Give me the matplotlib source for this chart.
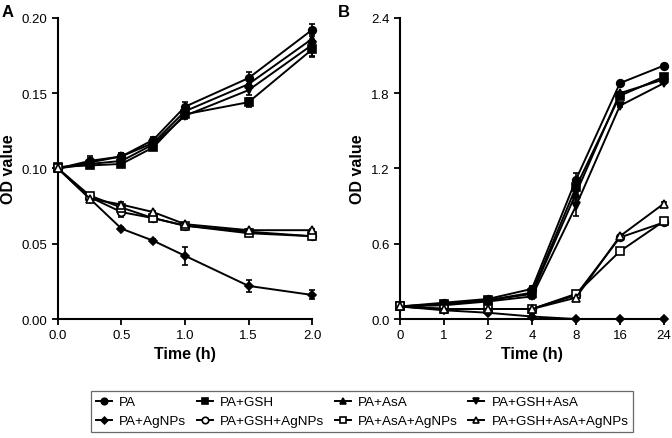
import numpy as np
import matplotlib
matplotlib.use("Agg")
import matplotlib.pyplot as plt
from matplotlib.lines import Line2D

plt.rcParams['font.family'] = ['Liberation Sans', 'DejaVu Sans']

labels = ['PA', 'PA+GSH', 'PA+AsA', 'PA+GSH+AsA',
          'PA+AgNPs', 'PA+GSH+AgNPs', 'PA+AsA+AgNPs', 'PA+GSH+AsA+AgNPs']
markers = ['o', 's', '^', 'v', 'D', 'o', 's', '^']
filled = [True, True, True, True, True, False, False, False]

# panel A - short time course
time_a = [0, 0.25, 0.5, 0.75, 1.0, 1.5, 2.0]
od_a = [
    [0.100, 0.105, 0.108, 0.119, 0.141, 0.160, 0.192],
    [0.101, 0.102, 0.103, 0.114, 0.136, 0.144, 0.179],
    [0.100, 0.104, 0.108, 0.117, 0.138, 0.156, 0.186],
    [0.100, 0.103, 0.105, 0.116, 0.135, 0.152, 0.182],
    [0.100, 0.080, 0.060, 0.052, 0.042, 0.022, 0.016],
    [0.100, 0.081, 0.071, 0.067, 0.062, 0.058, 0.055],
    [0.100, 0.082, 0.074, 0.067, 0.062, 0.057, 0.055],
    [0.100, 0.080, 0.076, 0.071, 0.063, 0.059, 0.059],
]
err_a = [
    [0.002, 0.002, 0.002, 0.002, 0.003, 0.004, 0.004],
    [0.002, 0.002, 0.002, 0.002, 0.002, 0.003, 0.005],
    [0.002, 0.004, 0.002, 0.002, 0.003, 0.003, 0.004],
    [0.002, 0.002, 0.004, 0.002, 0.002, 0.003, 0.007],
    [0.002, 0.002, 0.001, 0.001, 0.006, 0.004, 0.003],
    [0.002, 0.002, 0.003, 0.002, 0.002, 0.001, 0.001],
    [0.002, 0.002, 0.002, 0.001, 0.002, 0.001, 0.001],
    [0.002, 0.002, 0.002, 0.001, 0.001, 0.001, 0.001],
]

# panel B - long time course (categorical time points)
time_b = ['0', '1', '2', '4', '8', '16', '24']
od_b = [
    [0.10, 0.13, 0.16, 0.24, 1.11, 1.88, 2.02],
    [0.10, 0.12, 0.15, 0.21, 1.05, 1.78, 1.93],
    [0.10, 0.12, 0.15, 0.20, 1.00, 1.80, 1.91],
    [0.10, 0.11, 0.14, 0.18, 0.90, 1.70, 1.88],
    [0.10, 0.07, 0.05, 0.02, 0.00, 0.00, 0.00],
    [0.10, 0.08, 0.08, 0.08, 0.19, 0.65, 0.77],
    [0.10, 0.08, 0.08, 0.08, 0.20, 0.54, 0.78],
    [0.10, 0.08, 0.08, 0.08, 0.17, 0.66, 0.92],
]
err_b = [
    [0.01, 0.01, 0.01, 0.02, 0.05, 0.01, 0.01],
    [0.01, 0.01, 0.01, 0.02, 0.04, 0.02, 0.01],
    [0.01, 0.01, 0.01, 0.02, 0.05, 0.01, 0.01],
    [0.01, 0.01, 0.01, 0.02, 0.08, 0.01, 0.01],
    [0.01, 0.01, 0.01, 0.01, 0.00, 0.00, 0.00],
    [0.01, 0.01, 0.01, 0.01, 0.02, 0.01, 0.01],
    [0.01, 0.01, 0.01, 0.01, 0.02, 0.01, 0.01],
    [0.01, 0.01, 0.01, 0.01, 0.02, 0.01, 0.01],
]

fig = plt.figure(figsize=(6.72, 4.39), dpi=100)
axA = fig.add_axes([0.0863, 0.271, 0.378, 0.686])
axB = fig.add_axes([0.595, 0.271, 0.393, 0.686])


def style(i, scale=1.0):
    fc = 'black' if filled[i] else 'white'
    ms = 4 if markers[i] == 'D' else 5.5
    return dict(color='black', lw=1.4, marker=markers[i], ms=ms * scale,
                mfc=fc, mec='black', mew=1.2)


def draw(ax, x, data, errs):
    for i in range(len(labels)):
        ax.errorbar(x, data[i], yerr=errs[i], capsize=2.5, elinewidth=1.2,
                    capthick=1.2, clip_on=False, zorder=3, **style(i))
    for s in ['top', 'right']:
        ax.spines[s].set_visible(False)
    for s in ['left', 'bottom']:
        ax.spines[s].set_linewidth(1.5)
    ax.tick_params(direction='out', length=4, width=1.3, labelsize=9.5)
    ax.set_xlabel('Time (h)', fontsize=11.5, fontweight='bold', labelpad=3)
    ax.set_ylabel('OD value', fontsize=11.5, fontweight='bold', labelpad=4)


draw(axA, time_a, od_a, err_a)
axA.set_xlim(0, 2.0)
axA.set_ylim(0, 0.2)
axA.set_xticks(np.arange(0, 2.01, 0.5))
axA.set_yticks(np.arange(0, 0.201, 0.05))
axA.set_xticklabels(['0.0', '0.5', '1.0', '1.5', '2.0'])
axA.set_yticklabels(['0.00', '0.05', '0.10', '0.15', '0.20'])

xb = np.arange(len(time_b))
draw(axB, xb, od_b, err_b)
axB.set_xlim(0, 6)
axB.set_ylim(0, 2.4)
axB.set_xticks(xb)
axB.set_xticklabels(time_b)
axB.set_yticks([0, 0.6, 1.2, 1.8, 2.4])
axB.set_yticklabels(['0.0', '0.6', '1.2', '1.8', '2.4'])

fig.text(0.003, 0.972, 'A', fontsize=12, fontweight='bold', va='center')
fig.text(0.503, 0.972, 'B', fontsize=12, fontweight='bold', va='center')

# legend fills column-wise, so reorder to get two rows of four
handles = [Line2D([], [], **style(i, 0.85)) for i in range(len(labels))]
order = [0, 4, 1, 5, 2, 6, 3, 7]
leg = fig.legend([handles[i] for i in order], [labels[i] for i in order],
                 ncol=4, loc='lower center', bbox_to_anchor=(0.539, -0.002),
                 frameon=True, fancybox=False, fontsize=9.7, handlelength=1.2,
                 handletextpad=0.55, columnspacing=0.75, borderpad=0.35,
                 labelspacing=0.5)
leg.get_frame().set_edgecolor('#444444')
leg.get_frame().set_linewidth(0.9)

fig.savefig('out.png', dpi=100)
